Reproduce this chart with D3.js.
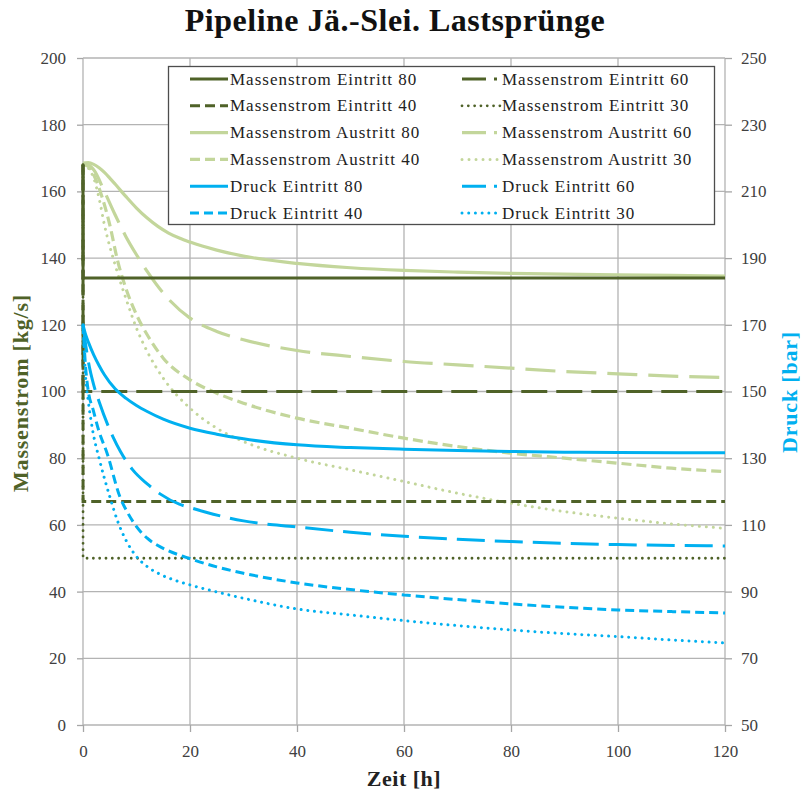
<!DOCTYPE html>
<html><head><meta charset="utf-8">
<script src="https://cdn.jsdelivr.net/npm/d3@7"></script>
<style>body{margin:0;background:#fff}</style>
</head><body>
<svg id="c" width="801" height="798"></svg>
<script>
// ---------- DATA ----------
const xTicks = [0, 20, 40, 60, 80, 100, 120];
const yLeftTicks = [0, 20, 40, 60, 80, 100, 120, 140, 160, 180, 200];
const yRightTicks = [50, 70, 90, 110, 130, 150, 170, 190, 210, 230, 250];

// Massenstrom Eintritt (kg/s): step at t=0
const tEin = [0, 0.01, 120];
const ein80 = [168, 134, 134];
const ein60 = [168, 100, 100];
const ein40 = [168, 67, 67];
const ein30 = [168, 50, 50];

// Massenstrom Austritt (kg/s)
const tAus80 = [0, 1, 2, 3, 4, 5, 6, 8, 10, 12, 14, 16, 18, 20, 25, 30, 40, 50, 60, 70, 80, 100, 120];
const aus80  = [168.5, 168.6, 168.1, 167.1, 165.7, 164, 162.2, 158.5, 155, 152, 149.5, 147.5, 146, 144.8, 142.4, 140.6, 138.4, 137.1, 136.3, 135.8, 135.4, 135, 134.6];
const tAus60 = [0, 1, 2, 4, 6, 8, 10, 12, 15, 20, 25, 30, 40, 50, 60, 70, 80, 90, 100, 110, 120];
const aus60  = [168, 167.8, 166.5, 160, 153, 146.5, 141, 136, 129.5, 122, 118, 115.5, 112.3, 110.5, 109, 108, 107, 106, 105.3, 104.6, 104.2];
const tAus40 = [0, 1, 2, 3, 5, 6.5, 8, 10, 12, 15, 20, 25, 30, 40, 50, 60, 70, 80, 90, 100, 110, 120];
const aus40  = [168, 167.5, 165, 161, 150, 139, 131, 123, 117, 110, 103.5, 99.5, 96.5, 92, 89, 86, 83.5, 81.5, 80, 78.5, 77, 76];
const tAus30 = [0, 1, 2, 3, 4, 6, 8, 10, 12, 15, 20, 25, 30, 40, 50, 60, 70, 80, 90, 100, 110, 120];
const aus30  = [168, 167, 164, 158, 150, 138, 128, 119, 112, 104, 95, 89, 85, 80, 76.5, 73, 69.5, 66.5, 64, 62, 60.3, 59];

// Druck Eintritt (bar)
const tDr80 = [0, 0.5, 1, 2, 3, 4, 6, 8, 10, 12, 15, 20, 25, 30, 40, 50, 60, 70, 80, 90, 100, 120];
const dr80  = [170, 167, 164.8, 161, 157.8, 155, 150.8, 148, 145.8, 144, 141.7, 139, 137.2, 135.8, 134, 133.2, 132.7, 132.3, 132, 131.8, 131.7, 131.6];
const tDr60 = [0, 0.5, 1, 2, 3, 5.6, 7, 9.3, 12, 14.4, 18, 20, 23, 30, 40, 50, 60, 70, 80, 90, 100, 120];
const dr60  = [170, 164, 159, 152, 147, 136.4, 132, 126.5, 122.3, 119.3, 116.2, 115.2, 113.8, 111.2, 109.4, 107.8, 106.6, 105.7, 105, 104.5, 104.1, 103.7];
const tDr40 = [0, 0.5, 1, 1.9, 3, 4.5, 6.9, 8.4, 10, 12, 14, 16, 19.4, 25, 30, 40, 50, 60, 70, 80, 90, 100, 110, 120];
const dr40  = [170, 157, 150, 144.5, 138, 131.5, 118.4, 113.5, 109.5, 106, 103.8, 102.2, 100.2, 97.4, 95.5, 92.6, 90.6, 89, 87.6, 86.3, 85.3, 84.5, 84, 83.6];
const tDr30 = [0, 0.5, 1, 1.9, 3, 5, 6.5, 8, 10, 12, 14.4, 17, 20, 25, 30, 40, 50, 60, 70, 80, 90, 100, 110, 120];
const dr30  = [170, 154, 147, 137.5, 130, 118.5, 111, 105.5, 100.5, 97.5, 95.2, 93.5, 92, 89.9, 88, 84.8, 83, 81.3, 79.8, 78.5, 77.4, 76.5, 75.5, 74.6];

const legendLabels = [
  "Massenstrom Eintritt 80", "Massenstrom Eintritt 60",
  "Massenstrom Eintritt 40", "Massenstrom Eintritt 30",
  "Massenstrom Austritt 80", "Massenstrom Austritt 60",
  "Massenstrom Austritt 40", "Massenstrom Austritt 30",
  "Druck Eintritt 80", "Druck Eintritt 60",
  "Druck Eintritt 40", "Druck Eintritt 30"
];

// ---------- STYLES ----------
const DARK = "#4f6228", LIGHT = "#c3d69b", CYAN = "#00b0f0";
const FONT = "'Liberation Serif', 'DejaVu Serif', serif";

const svg = d3.select("#c");
const x = d3.scaleLinear().domain([0, 120]).range([83, 725]);
const yL = d3.scaleLinear().domain([0, 200]).range([725, 58]);
const yR = d3.scaleLinear().domain([50, 250]).range([725, 58]);

// grid
const grid = svg.append("g");
grid.selectAll("line.h").data(yLeftTicks).join("line")
  .attr("x1", x(0)).attr("x2", x(120))
  .attr("y1", d => yL(d)).attr("y2", d => yL(d))
  .attr("stroke", "#b3b3b3").attr("stroke-width", 1.3);
grid.selectAll("line.v").data(xTicks).join("line")
  .attr("y1", yL(200)).attr("y2", yL(0))
  .attr("x1", d => x(d)).attr("x2", d => x(d))
  .attr("stroke", "#b3b3b3").attr("stroke-width", 1.3);

// axes
function styleAxis(g) {
  g.select(".domain").remove();
  g.selectAll(".tick line").attr("stroke", "#a6a6a6").attr("stroke-width", 1.3);
  g.selectAll(".tick text").attr("fill", "#404040")
    .style("font-family", FONT).style("font-size", "17px");
}
svg.append("g").attr("transform", `translate(${x(0)},0)`)
  .call(d3.axisLeft(yL).tickValues(yLeftTicks).tickSize(6).tickPadding(11))
  .call(styleAxis);
svg.append("g").attr("transform", `translate(${x(120)},0)`)
  .call(d3.axisRight(yR).tickValues(yRightTicks).tickSize(7).tickPadding(9))
  .call(styleAxis);
svg.append("g").attr("transform", `translate(0,${yL(0)})`)
  .call(d3.axisBottom(x).tickValues(xTicks).tickSize(7).tickPadding(13))
  .call(styleAxis);

// series
const series = [
  {t: tEin, v: ein80, y: yL, c: DARK, w: 3, dash: null, cap: "butt", curve: d3.curveLinear},
  {t: tEin, v: ein60, y: yL, c: DARK, w: 3, dash: "26,9", cap: "butt", curve: d3.curveLinear, ldash: "24,8,3,8"},
  {t: tEin, v: ein40, y: yL, c: DARK, w: 3, dash: "10,5", cap: "butt", curve: d3.curveLinear},
  {t: tEin, v: ein30, y: yL, c: DARK, w: 2.8, dash: "0.01,6.3", cap: "round", curve: d3.curveLinear},
  {t: tAus80, v: aus80, y: yL, c: LIGHT, w: 3.2, dash: null, cap: "butt", curve: d3.curveMonotoneX},
  {t: tAus60, v: aus60, y: yL, c: LIGHT, w: 3.2, dash: "30,11", cap: "butt", curve: d3.curveMonotoneX, ldash: "24,8,3,8"},
  {t: tAus40, v: aus40, y: yL, c: LIGHT, w: 3.2, dash: "10,5", cap: "butt", curve: d3.curveMonotoneX},
  {t: tAus30, v: aus30, y: yL, c: LIGHT, w: 3, dash: "0.01,7", cap: "round", curve: d3.curveMonotoneX},
  {t: tDr80, v: dr80, y: yR, c: CYAN, w: 3, dash: null, cap: "butt", curve: d3.curveMonotoneX},
  {t: tDr60, v: dr60, y: yR, c: CYAN, w: 3, dash: "28,10", cap: "butt", curve: d3.curveMonotoneX, ldash: "24,8,3,8"},
  {t: tDr40, v: dr40, y: yR, c: CYAN, w: 3, dash: "9,5", cap: "butt", curve: d3.curveMonotoneX},
  {t: tDr30, v: dr30, y: yR, c: CYAN, w: 3, dash: "0.01,6.7", cap: "round", curve: d3.curveMonotoneX}
];

const plot = svg.append("g");
const order = [4, 5, 6, 7, 0, 1, 2, 3, 8, 9, 10, 11];
order.forEach(i => {
  const s = series[i];
  const pts = s.t.map((t, k) => [t, s.v[k]]);
  const line = d3.line().x(d => x(d[0])).y(d => s.y(d[1])).curve(s.curve);
  plot.append("path").attr("d", line(pts))
    .attr("fill", "none").attr("stroke", s.c).attr("stroke-width", s.w)
    .attr("stroke-dasharray", s.dash).attr("stroke-linecap", s.cap);
});

// legend
const lg = svg.append("g");
lg.append("rect").attr("x", 168.5).attr("y", 66.5).attr("width", 546).attr("height", 158)
  .attr("fill", "#fff").attr("stroke", "#4d4d4d").attr("stroke-width", 1.3);
legendLabels.forEach((lab, i) => {
  const col = i % 2, row = Math.floor(i / 2);
  const x0 = col === 0 ? 190 : 462;
  const yy = 79 + row * 26.8;
  const s = series[i];
  lg.append("line").attr("x1", x0).attr("x2", x0 + 38).attr("y1", yy).attr("y2", yy)
    .attr("stroke", s.c).attr("stroke-width", s.w)
    .attr("stroke-dasharray", s.ldash || s.dash).attr("stroke-linecap", s.cap);
  lg.append("text").attr("x", x0 + 40).attr("y", yy).attr("dy", "0.33em")
    .attr("fill", "#222").style("font-family", FONT).style("font-size", "17px")
    .style("letter-spacing", "1px").text(lab);
});

// titles
svg.append("text").attr("x", 395).attr("y", 31).attr("text-anchor", "middle")
  .style("font-family", FONT).style("font-size", "32px").style("font-weight", "bold")
  .style("letter-spacing", "0.5px")
  .attr("fill", "#111").text("Pipeline Jä.-Slei. Lastsprünge");
svg.append("text").attr("x", 404).attr("y", 786).attr("text-anchor", "middle")
  .style("font-family", FONT).style("font-size", "22px").style("font-weight", "bold")
  .style("letter-spacing", "0.5px")
  .attr("fill", "#222").text("Zeit [h]");
svg.append("text").attr("transform", "translate(28,393) rotate(-90)").attr("text-anchor", "middle")
  .style("font-family", FONT).style("font-size", "22px").style("font-weight", "bold")
  .style("letter-spacing", "0.8px")
  .attr("fill", DARK).text("Massenstrom [kg/s]");
svg.append("text").attr("transform", "translate(797,392) rotate(-90)").attr("text-anchor", "middle")
  .style("font-family", FONT).style("font-size", "22px").style("font-weight", "bold")
  .style("letter-spacing", "0.8px")
  .attr("fill", CYAN).text("Druck [bar]");
</script>
</body></html>
